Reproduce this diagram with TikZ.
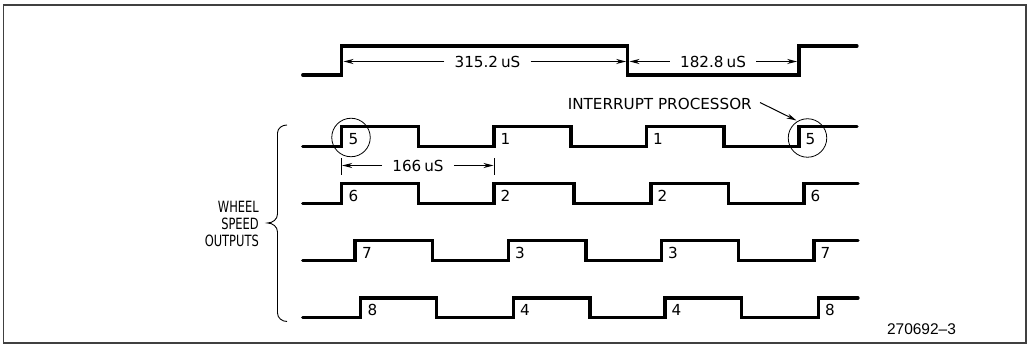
\documentclass[tikz,border=0pt]{standalone}
\usepackage{fontspec}
\setmainfont{DejaVu Sans}
\newfontfamily\condfont[FakeStretch=0.74]{DejaVu Sans}
\newfontfamily\figfont[Ligatures=TeX]{Liberation Sans}
\usetikzlibrary{arrows.meta}
\tikzset{
  wave/.style={line width=3.2pt, line join=miter, line cap=round},
  dimline/.style={line width=1pt, -{Stealth[length=10pt,width=5pt]}},
  tick/.style={line width=1pt},
  lbl/.style={font=\fontsize{15.2}{17}\selectfont, inner sep=0pt},
  num/.style={lbl, anchor=base west},
  dimtxt/.style={lbl, inner xsep=10pt},
  framebox/.style={line width=1.8pt, draw=black!75},
}
\begin{document}
\begin{tikzpicture}[x=1pt,y=-1pt]
\useasboundingbox (0,0) rectangle (1029,347);
\draw[framebox] (3.5,5) -- (1026,5) -- (1026,343) -- (3.5,343) -- cycle;

% top reference signal
\draw[wave] (302.7,75) -| (341.7,46) -| (627.7,75) -| (799,46) -- (857,46);
\coordinate (r1) at (343.5,61.5);
\coordinate (f1) at (626.2,61.5);
\coordinate (f1b) at (629.5,61.5);
\coordinate (r2) at (797.2,61.5);
\node[dimtxt] (t315) at (487.5,61.5) {315.2\hspace{0.2em}uS};
\node[dimtxt] (t182) at (713,61.5) {182.8\hspace{0.2em}uS};
\draw[dimline] (t315.west) -- (r1);
\draw[dimline] (t315.east) -- (f1);
\draw[dimline] (t182.west) -- (f1b);
\draw[dimline] (t182.east) -- (r2);

% interrupt processor
\node[lbl, anchor=east] (ip) at (752,104) {INTERRUPT PROCESSOR};
\coordinate (ipt) at (796.5,120.5);
\draw[dimline] ([xshift=8pt,yshift=1.5pt]ip.east) -- (ipt);

% signal 1
\draw[wave] (302.7,146.7) -| (341.7,126.7) -| (418.3,146.7) -| (494,126.7) -| (571,146.7) -| (646.7,126.7) -| (724,146.7) -| (799,126.7) -- (857,126.7);
\node[num] (a1) at (348.5,144.8) {5};
\node[num] (a2) at (500.5,144.8) {1};
\node[num] (a3) at (653,144.8) {1};
\node[num] (a4) at (805.5,144.8) {5};
\node[draw, circle, line width=0.8pt, minimum size=38.5pt, inner sep=0pt] (c1) at (351,137.5) {};
\node[draw, circle, line width=0.8pt, minimum size=38.5pt, inner sep=0pt] (c2) at (807.5,138) {};

% 166 uS dimension
\coordinate (k1) at (341.7,158.5);
\coordinate (k1b) at (341.7,175);
\coordinate (k2) at (494,158.5);
\coordinate (k2b) at (494,175);
\draw[tick] (k1) -- (k1b);
\draw[tick] (k2) -- (k2b);
\coordinate (k1m) at (342.2,165.5);
\coordinate (k2m) at (493.5,165.5);
\node[dimtxt] (t166) at (418,165.5) {166\hspace{0.2em}uS};
\draw[dimline] (t166.west) -- (k1m);
\draw[dimline] (t166.east) -- (k2m);

% signal 2
\draw[wave] (302.7,203.3) -| (341.7,183.3) -| (418.3,203.3) -| (494,183.3) -| (574,203.3) -| (651,183.3) -| (728.3,203.3) -| (804,183.3) -- (858,183.3);
\node[num] (b1) at (348.5,201.3) {6};
\node[num] (b2) at (500.5,201.3) {2};
\node[num] (b3) at (657.5,201.3) {2};
\node[num] (b4) at (810.5,201.3) {6};

% signal 3
\draw[wave] (302.7,260.7) -| (355,240.7) -| (432.7,260.7) -| (508.3,240.7) -| (586,260.7) -| (661.7,240.7) -| (738.3,260.7) -| (814,240.7) -- (858,240.7);
\node[num] (e1) at (362,258.7) {7};
\node[num] (e2) at (515,258.7) {3};
\node[num] (e3) at (668,258.7) {3};
\node[num] (e4) at (820.5,258.7) {7};

% signal 4
\draw[wave] (302.7,317.5) -| (360.7,298) -| (436.7,317.5) -| (513.3,298) -| (590,317.5) -| (665,298) -| (741.7,317.5) -| (818.3,298) -- (858,298);
\node[num] (g1) at (367.5,315.5) {8};
\node[num] (g2) at (520,315.5) {4};
\node[num] (g3) at (671.5,315.5) {4};
\node[num] (g4) at (825,315.5) {8};

% brace and label
\draw[line width=0.9pt] (287,125) to[out=180,in=90] (277.5,133) -- (277.5,214) to[out=-90,in=0] (267.5,223) to[out=0,in=90] (277.5,232) -- (277.5,313) to[out=-90,in=180] (287,321.5);
\node[lbl, anchor=east, align=right, font=\condfont\fontsize{15.5}{17.3}\selectfont] (wso) at (259,224) {WHEEL\\SPEED\\OUTPUTS};

% figure number
\node[inner sep=0pt, font=\figfont\fontsize{15.5}{18}\selectfont] (fig) at (921.5,329) {270692--3};
\end{tikzpicture}
\end{document}
